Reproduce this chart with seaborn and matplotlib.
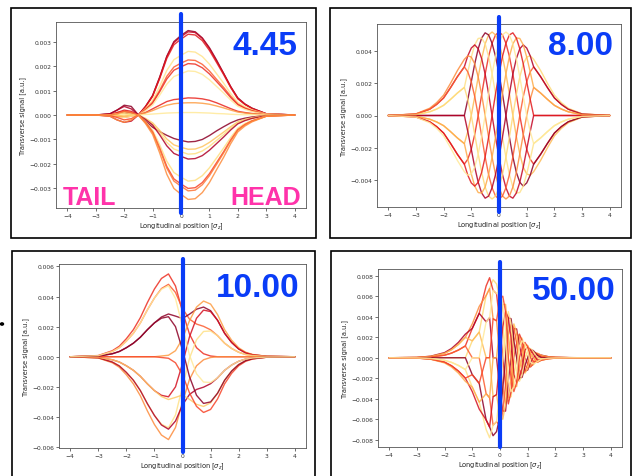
import matplotlib
matplotlib.use("Agg")
import matplotlib.pyplot as plt
import seaborn as sns
import pandas as pd
from matplotlib.patches import Rectangle, Circle

sns.set_theme(style="ticks")
plt.rcParams['font.family'] = ['DejaVu Sans']

# ---------------- data (transverse signal in units of 1e-4 a.u.) ----------------
grid = [-4, -3, -2.5, -2.25, -2, -1.75, -1.5, -1.25, -1, -0.75, -0.5, -0.25, 0,
        0.25, 0.5, 0.75, 1, 1.25, 1.5, 1.75, 2, 2.25, 2.5, 3, 4]

p1_signal = [
    [0, 0, 0.5, 2, 4, 3.5, 0, 3.5, 8, 15.5, 24, 30, 32.5, 34.5, 34, 31.5, 27.5, 22.5, 17, 11.5, 7, 4.5, 2.8, 0.5, 0],
    [0, 0, -0.5, -2, -3, -2.5, 0, 3.4, 7.8, 15.3, 23.8, 29.6, 32, 34, 33.7, 31.3, 27.2, 22.1, 17, 11.6, 6.8, 4.4, 2.7, 0.5, 0],
    [0, 0, 0.3, 1, 2, 1.5, 0, 3.3, 7.6, 14.9, 23.1, 28.7, 31, 33, 32.7, 30.4, 26.4, 21.5, 16.5, 11.2, 6.6, 4.3, 2.6, 0.5, 0],
    [0, 0, 0, 0.5, 1, 0.5, 0, 2.6, 6, 11.7, 18.2, 22.6, 24.4, 26, 25.7, 23.9, 20.8, 16.9, 13, 8.8, 5.2, 3.4, 2.1, 0.4, 0],
    [0, 0, 0, -0.5, -1, -0.5, 0, 2.3, 5.2, 10.1, 15.8, 19.6, 21.2, 22.5, 22.3, 20.7, 18, 14.6, 11.3, 7.7, 4.5, 2.9, 1.8, 0.3, 0],
    [0, 0, 0, 1, 1.5, 1, 0, 2.1, 4.8, 9.5, 14.7, 18.3, 19.7, 21, 20.8, 19.3, 16.8, 13.7, 10.5, 7.1, 4.2, 2.7, 1.7, 0.3, 0],
    [0, 0, 0, -0.5, -1, -0.5, 0, 1.8, 4.1, 8.1, 12.6, 15.7, 16.9, 18, 17.8, 16.6, 14.4, 11.7, 9, 6.1, 3.6, 2.3, 1.4, 0.3, 0],
    [0, 0, 0, 0.5, 1, 0.5, 0, 1, 2.5, 4, 5.5, 6.3, 6.6, 7, 6.9, 6.6, 6, 5, 3.8, 2.6, 1.5, 1, 0.6, 0.1, 0],
    [0, 0, 0, -0.5, -0.5, 0, 0, 0.8, 1.8, 3, 4, 4.6, 4.9, 5, 5, 4.8, 4.4, 3.7, 2.9, 2, 1.2, 0.8, 0.5, 0.1, 0],
    [0, 0, 0, 0, 0, 0, 0, 0.2, 0.4, 0.6, 0.8, 0.9, 1, 1, 1, 0.9, 0.8, 0.6, 0.5, 0.3, 0.2, 0.1, 0.1, 0, 0],
    [0, 0, 0, 0.5, 1, 0.5, 0, -2.5, -5, -6.8, -8.3, -9.6, -10.4, -11, -10.8, -10, -8.4, -6.5, -4.8, -3.2, -2, -1.3, -0.8, -0.2, 0],
    [0, 0, 0, 0, -0.5, 0, 0, -1.4, -3.2, -6.3, -9.8, -12.2, -13.2, -14, -13.9, -12.9, -11.2, -9.1, -7, -4.8, -2.8, -1.8, -1.1, -0.2, 0],
    [0, 0, 0, 0.5, 0.5, 0, 0, -1.6, -3.7, -7.2, -11.2, -13.9, -15, -16, -15.8, -14.7, -12.8, -10.4, -8, -5.4, -3.2, -2.1, -1.3, -0.2, 0],
    [0, 0, 0.5, 2, 3.5, 2.5, 0, -1.8, -4.1, -8.1, -12.6, -15.7, -16.9, -18, -17.8, -16.6, -14.4, -11.7, -9, -6.1, -3.6, -2.3, -1.4, -0.3, 0],
    [0, 0, 0, 0.5, 1, 0.5, 0, -2.7, -6.2, -12.2, -18.9, -23.5, -25.4, -27, -26.7, -24.8, -21.6, -17.6, -13.5, -9.2, -5.4, -3.5, -2.2, -0.4, 0],
    [0, 0, -0.3, -1, -2, -1.5, 0, -3, -6.9, -13.5, -21, -26.1, -28.2, -30, -29.7, -27.6, -24, -19.5, -15, -10.2, -6, -3.9, -2.4, -0.5, 0],
    [0, 0, 0, 0.5, 1.5, 1, 0, -3.1, -7.1, -14, -21.7, -27, -29.1, -31, -30.7, -28.5, -24.8, -20.2, -15.5, -10.5, -6.2, -4, -2.5, -0.5, 0],
    [0, 0, -0.5, -2, -3, -2, 0, -3.5, -7.9, -15.5, -24.2, -30, -32.4, -34.5, -34.2, -31.7, -27.6, -22.4, -17.3, -11.7, -6.9, -4.5, -2.8, -0.5, 0],
]

grid2 = [-4, -3, -2.5, -2.25, -2, -1.75, -1.5, -1.25, -1.125, -1, -0.875, -0.75, -0.625, -0.5,
         -0.375, -0.25, -0.125, 0, 0.125, 0.25, 0.375, 0.5, 0.625, 0.75, 0.875, 1, 1.125,
         1.25, 1.5, 1.75, 2, 2.25, 2.5, 3, 4]

p2_signal = [
    [0, -0.9, -3.9, -6.9, -10.9, -17.3, -24.2, -30.3, -27.2, -21, -11.8, 0, 13, 25.8, 36.8, 45, 50.2, 52, 50.2, 45, 36.8, 25.8, 13, 0, -11.8, -21, -27.2, -30.3, -24.2, -17.3, -10.9, -6.9, -3.9, -0.9, 0],
    [0, -0.5, -2.3, -4, -6.3, -10, -14, -17.5, -10, 0, 11.8, 24, 35.4, 44.6, 50.2, 52, 50.2, 45, 36.8, 26, 13.5, 0, -13, -24, -32.2, -36.4, -37.2, -35, -28, -20, -12.6, -8, -4.5, -1, 0],
    [0, 0, 0, 0, 0, 0, 0, 0, 10, 21, 32.2, 41.6, 48.3, 51.5, 50.2, 45, 36.8, 26, 13.5, 0, -13.5, -25.8, -35.4, -41.6, -44, -42, -37.2, -30.3, -24.2, -17.3, -10.9, -6.9, -3.9, -0.9, 0],
    [0, 0.5, 2.3, 4, 6.3, 10, 14, 17.5, 27.2, 36.4, 44, 48, 48.3, 44.6, 36.8, 26, 13.5, 0, -13.5, -26, -36.8, -44.6, -48.3, -48, -44, -36.4, -27.2, -17.5, -14, -10, -6.3, -4, -2.3, -0.5, 0],
    [0, 0.9, 3.9, 6.9, 10.9, 17.3, 24.2, 30.3, 37.2, 42, 44, 41.6, 35.4, 25.8, 13.5, 0, -13.5, -26, -36.8, -45, -50.2, -51.5, -48.3, -41.6, -32.2, -21, -10, 0, 0, 0, 0, 0, 0, 0, 0],
    [0, 1, 4.5, 8, 12.6, 20, 28, 35, 37.2, 36.4, 32.2, 24, 13, 0, -13.5, -26, -36.8, -45, -50.2, -52, -50.2, -44.6, -35.4, -24, -11.8, 0, 10, 17.5, 14, 10, 6.3, 4, 2.3, 0.5, 0],
    [0, 0.9, 3.9, 6.9, 10.9, 17.3, 24.2, 30.3, 27.2, 21, 11.8, 0, -13, -25.8, -36.8, -45, -50.2, -52, -50.2, -45, -36.8, -25.8, -13, 0, 11.8, 21, 27.2, 30.3, 24.2, 17.3, 10.9, 6.9, 3.9, 0.9, 0],
    [0, 0.5, 2.3, 4, 6.3, 10, 14, 17.5, 10, 0, -11.8, -24, -35.4, -44.6, -50.2, -52, -50.2, -45, -36.8, -26, -13.5, 0, 13, 24, 32.2, 36.4, 37.2, 35, 28, 20, 12.6, 8, 4.5, 1, 0],
    [0, 0, 0, 0, 0, 0, 0, 0, -10, -21, -32.2, -41.6, -48.3, -51.5, -50.2, -45, -36.8, -26, -13.5, 0, 13.5, 25.8, 35.4, 41.6, 44, 42, 37.2, 30.3, 24.2, 17.3, 10.9, 6.9, 3.9, 0.9, 0],
    [0, -0.5, -2.3, -4, -6.3, -10, -14, -17.5, -27.2, -36.4, -44, -48, -48.3, -44.6, -36.8, -26, -13.5, 0, 13.5, 26, 36.8, 44.6, 48.3, 48, 44, 36.4, 27.2, 17.5, 14, 10, 6.3, 4, 2.3, 0.5, 0],
    [0, -0.9, -3.9, -6.9, -10.9, -17.3, -24.2, -30.3, -37.2, -42, -44, -41.6, -35.4, -25.8, -13.5, 0, 13.5, 26, 36.8, 45, 50.2, 51.5, 48.3, 41.6, 32.2, 21, 10, 0, 0, 0, 0, 0, 0, 0, 0],
    [0, -1, -4.5, -8, -12.6, -20, -28, -35, -37.2, -36.4, -32.2, -24, -13, 0, 13.5, 26, 36.8, 45, 50.2, 52, 50.2, 44.6, 35.4, 24, 11.8, 0, -10, -17.5, -14, -10, -6.3, -4, -2.3, -0.5, 0],
]

p3_signal = [
    [0, 0.8, 4, 7, 12, 18, 26, 36, 45, 52, 55, 47, 30, 15, 6, 2, 0.5, 0, 0, 0, 0, 0, 0, 0, 0],
    [0, 0.7, 3.5, 6.1, 10.4, 15.6, 22.5, 31.2, 39, 45.3, 48.1, 42.7, 32, 25, 21.7, 20.2, 17.9, 14, 9, 5.5, 3, 1.5, 0.8, 0.2, 0],
    [0, 0.4, 2, 3.5, 6, 9, 13, 18, 22.5, 26.4, 28.4, 27, 25.4, 28.3, 31.6, 33, 30.6, 24.2, 15.6, 9.5, 5.2, 2.6, 1.3, 0.3, 0],
    [0, 0, 0, 0, 0, 0, 0, 0, 0, 0.5, 1, 4, 12, 24, 33, 37, 35, 28, 18, 11, 6, 3, 1.5, 0.3, 0],
    [0, -0.4, -2, -3.5, -6, -9, -13, -18, -22.5, -25.6, -26.6, -20, -4.6, 13.3, 25.6, 31, 30, 24.2, 15.6, 9.5, 5.2, 2.6, 1.3, 0.3, 0],
    [0, -0.7, -3.5, -6.1, -10.4, -15.6, -22.5, -31.2, -39, -44.8, -47.1, -38.7, -20, -1, 11.3, 16.8, 17.1, 14, 9, 5.5, 3, 1.5, 0.8, 0.2, 0],
    [0, -0.8, -4, -7, -12, -18, -26, -36, -45, -52, -55, -47, -30, -15, -6, -2, -0.5, 0, 0, 0, 0, 0, 0, 0, 0],
    [0, -0.7, -3.5, -6.1, -10.4, -15.6, -22.5, -31.2, -39, -45.3, -48.1, -42.7, -32, -25, -21.7, -20.2, -17.9, -14, -9, -5.5, -3, -1.5, -0.8, -0.2, 0],
    [0, -0.4, -2, -3.5, -6, -9, -13, -18, -22.5, -26.4, -28.4, -27, -25.4, -28.3, -31.6, -33, -30.6, -24.2, -15.6, -9.5, -5.2, -2.6, -1.3, -0.3, 0],
    [0, 0, 0, 0, 0, 0, 0, 0, 0, -0.5, -1, -4, -12, -24, -33, -37, -35, -28, -18, -11, -6, -3, -1.5, -0.3, 0],
    [0, 0.4, 2, 3.5, 6, 9, 13, 18, 22.5, 25.6, 26.6, 20, 4.6, -13.3, -25.6, -31, -30, -24.2, -15.6, -9.5, -5.2, -2.6, -1.3, -0.3, 0],
    [0, 0.7, 3.5, 6.1, 10.4, 15.6, 22.5, 31.2, 39, 44.8, 47.1, 38.7, 20, 1, -11.3, -16.8, -17.1, -14, -9, -5.5, -3, -1.5, -0.8, -0.2, 0],
]

grid4 = [-4, -3, -2.5, -2, -1.75, -1.5, -1.25, -1, -0.75, -0.5, -0.375, -0.25, -0.125, 0,
         0.1, 0.2, 0.3, 0.4, 0.5, 0.6, 0.7, 0.8, 0.9, 1.0, 1.1, 1.2, 1.35, 1.5, 1.75, 2, 2.5, 3, 4]

p4_signal = [
    [0, 0, 0, 0, 0, 0, 0, 16.5, 25, 60.6, 67.5, 76, 72, 57.2, 30, 0, -39, -38, -16.5, 0, 19.9, 19, 7.5, 0, -7.8, -7, -2.3, 0, 0, 0, 0, 0, 0],
    [0, 0.15, 0.75, 2.5, 4.5, 7.5, 11.5, 28.6, 43.3, 70, 78, 65.8, 62.4, 33, 0, -26, -45, -32.9, 0, 14, 23, 16.5, 0, -6, -9, -6.1, 0, 1.25, 0.5, 0.2, 0.05, 0, 0],
    [0, 0.26, 1.3, 4.3, 7.8, 13, 19.9, 33, 50, 60.6, 67.5, 38, 36, 0, -30, -45, -39, -19, 16.5, 24.2, 19.9, 9.5, -7.5, -10.4, -7.8, -3.5, 2.3, 2.2, 0.87, 0.35, 0.09, 0, 0],
    [0, 0.3, 1.5, 5, 9, 15, 23, 28.6, 43.3, 35, 39, 0, 0, -33, -52, -52, -22.5, 0, 28.6, 28, 11.5, 0, -13, -12, -4.5, 0, 3.9, 2.5, 1, 0.4, 0.1, 0, 0],
    [0, 0.26, 1.3, 4.3, 7.8, 13, 19.9, 16.5, 25, 0, 0, -38, -36, -57.2, -60, -45, 0, 19, 33, 24.2, 0, -9.5, -15, -10.4, 0, 3.5, 4.5, 2.2, 0.87, 0.35, 0.09, 0, 0],
    [0, 0.15, 0.75, 2.5, 4.5, 7.5, 11.5, 0, 0, -35, -39, -65.8, -62.4, -66, -52, -26, 22.5, 32.9, 28.6, 14, -11.5, -16.5, -13, -6, 4.5, 6.1, 3.9, 1.25, 0.5, 0.2, 0.05, 0, 0],
    [0, 0, 0, 0, 0, 0, 0, -16.5, -25, -60.6, -67.5, -76, -72, -57.2, -30, 0, 39, 38, 16.5, 0, -19.9, -19, -7.5, 0, 7.8, 7, 2.3, 0, 0, 0, 0, 0, 0],
    [0, -0.15, -0.75, -2.5, -4.5, -7.5, -11.5, -28.6, -43.3, -70, -78, -65.8, -62.4, -33, 0, 26, 45, 32.9, 0, -14, -23, -16.5, 0, 6, 9, 6.1, 0, -1.25, -0.5, -0.2, -0.05, 0, 0],
    [0, -0.26, -1.3, -4.3, -7.8, -13, -19.9, -33, -50, -60.6, -67.5, -38, -36, 0, 30, 45, 39, 19, -16.5, -24.2, -19.9, -9.5, 7.5, 10.4, 7.8, 3.5, -2.3, -2.2, -0.87, -0.35, -0.09, 0, 0],
    [0, -0.3, -1.5, -5, -9, -15, -23, -28.6, -43.3, -35, -39, 0, 0, 33, 52, 52, 22.5, 0, -28.6, -28, -11.5, 0, 13, 12, 4.5, 0, -3.9, -2.5, -1, -0.4, -0.1, 0, 0],
    [0, -0.26, -1.3, -4.3, -7.8, -13, -19.9, -16.5, -25, 0, 0, 38, 36, 57.2, 60, 45, 0, -19, -33, -24.2, 0, 9.5, 15, 10.4, 0, -3.5, -4.5, -2.2, -0.87, -0.35, -0.09, 0, 0],
    [0, -0.15, -0.75, -2.5, -4.5, -7.5, -11.5, 0, 0, 35, 39, 65.8, 62.4, 66, 52, 26, -22.5, -32.9, -28.6, -14, 11.5, 16.5, 13, 6, -4.5, -6.1, -3.9, -1.25, -0.5, -0.2, -0.05, 0, 0],
]

panel_labels = ["4.45", "8.00", "10.00", "50.00"]
x_ticks = [-4, -3, -2, -1, 0, 1, 2, 3, 4]
p1_yticks = [-0.003, -0.002, -0.001, 0.0, 0.001, 0.002, 0.003]
p2_yticks = [-0.004, -0.002, 0.0, 0.002, 0.004]
p3_yticks = [-0.006, -0.004, -0.002, 0.0, 0.002, 0.004, 0.006]
p4_yticks = [-0.008, -0.006, -0.004, -0.002, 0.0, 0.002, 0.004, 0.006, 0.008]

# ---------------- styling ----------------
cmap = plt.get_cmap("YlOrRd")
p1_levels = [0.97, 0.85, 0.75, 0.18, 0.6, 0.7, 0.15, 0.72, 0.45, 0.15,
             0.97, 0.32, 0.22, 0.9, 0.22, 0.65, 0.55, 0.5]
p2_levels = [0.7, 0.35, 0.97, 0.2, 0.85, 0.5, 0.6, 0.25, 0.9, 0.4, 0.75, 0.15]
p3_levels = [0.7, 0.6, 0.97, 0.45, 0.8, 0.2, 0.5, 0.9, 0.3, 0.65, 0.97, 0.15]
p4_levels = [0.25, 0.7, 0.5, 0.9, 0.35, 0.6, 0.97, 0.2, 0.8, 0.4, 0.65, 0.15]

W, H = 632, 477
fig = plt.figure(figsize=(W / 100, H / 100), dpi=100)
BLUE = "#0a3cf7"
PINK = "#ff33aa"


def px_axes(l, t, r, b):
    return fig.add_axes([l / W, 1 - b / H, (r - l) / W, (b - t) / H])


def draw_panel(box, xs, curves, levels, ylim, yticks, vext):
    ax = px_axes(*box)
    rows = []
    for k, c in enumerate(curves):
        for x, v in zip(xs, c):
            rows.append((x, v * 1e-4, k))
    df = pd.DataFrame(rows, columns=["x", "y", "curve"])
    pal = [cmap(l) for l in levels]
    sns.lineplot(data=df, x="x", y="y", hue="curve", palette=pal, legend=False,
                 ax=ax, linewidth=1.0, estimator=None, sort=False, alpha=0.85)
    ax.set_xlim(-4.4, 4.4)
    ax.set_ylim(*ylim)
    ax.set_xticks(x_ticks)
    ax.set_yticks(yticks)
    ax.tick_params(length=2, width=0.5, pad=1.5, labelsize=4.3, colors="#333333",
                   bottom=True, left=True)
    for s in ax.spines.values():
        s.set_color("#555555")
        s.set_linewidth(0.6)
        s.set_visible(True)
    ax.set_xlabel(r"Longitudinal position [$\sigma_z$]", fontsize=4.8, labelpad=2, color="#222222")
    ax.set_ylabel("Transverse signal [a.u.]", fontsize=4.8, labelpad=2, color="#222222")
    ax.axvline(0, ymin=vext[0], ymax=vext[1], color=BLUE, lw=3.0, clip_on=False, zorder=10)
    return ax


draw_panel((56, 23, 306, 209), grid, p1_signal, p1_levels, (-0.0038, 0.0038), p1_yticks, (-0.027, 1.043))
draw_panel((377, 25, 621, 208), grid2, p2_signal, p2_levels, (-0.0057, 0.0057), p2_yticks, (-0.027, 1.038))
draw_panel((59, 265, 306, 449), grid, p3_signal, p3_levels, (-0.00606, 0.00616), p3_yticks, (-0.022, 1.027))
draw_panel((378, 270, 622, 448), grid4, p4_signal, p4_levels, (-0.0087, 0.00865), p4_yticks, (0.0, 1.039))

# big numbers
label_pos = [(297, 55), (613, 55), (300, 297), (616, 300)]
for txt, (x, y) in zip(panel_labels, label_pos):
    fig.text(x / W, 1 - y / H, txt, ha="right", va="baseline", fontsize=24,
             fontweight="bold", family="Liberation Sans", color=BLUE)

fig.text(63 / W, 1 - 205 / H, "TAIL", ha="left", va="baseline", fontsize=18,
         fontweight="bold", family="Liberation Sans", color=PINK)
fig.text(301 / W, 1 - 205 / H, "HEAD", ha="right", va="baseline", fontsize=18,
         fontweight="bold", family="Liberation Sans", color=PINK)

# screenshot frames
frames = [(11, 9, 316, 239), (330, 9, 631, 239), (12, 252, 315, 480), (331, 252, 631, 480)]
for x0, y0, x1, y1 in frames:
    fig.patches.append(Rectangle((x0 / W, 1 - y1 / H), (x1 - x0) / W, (y1 - y0) / H,
                                 transform=fig.transFigure, fill=False, ec="black", lw=1.2))
fig.patches.append(Circle((2 / W, 1 - 325 / H), 1.5 / W, transform=fig.transFigure,
                          color="black"))

fig.savefig("out.png", dpi=100)
